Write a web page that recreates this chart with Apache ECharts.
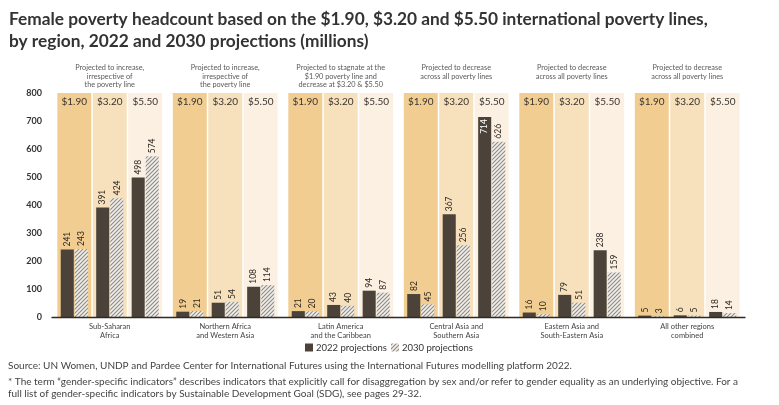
<!DOCTYPE html>
<html>
<head>
    <meta charset="utf-8">
    <title>Female poverty headcount</title>
    <script src="https://cdn.jsdelivr.net/npm/echarts@6/dist/echarts.min.js"></script>
    <style>
        html, body { margin: 0; padding: 0; background: #fff; }
        #main { width: 779px; height: 405px; }
    </style>
</head>
<body>
    <div id="main"></div>
    <script>
        var regions = ['Sub-Saharan\nAfrica', 'Northern Africa\nand Western Asia', 'Latin America\nand the Caribbean',
            'Central Asia and\nSouthern Asia', 'Eastern Asia and\nSouth-Eastern Asia', 'All other regions\ncombined'];
        var povertyLines = ['$1.90', '$3.20', '$5.50'];
        var notes = [
            'Projected to increase,\nirrespective of\nthe poverty line',
            'Projected to increase,\nirrespective of\nthe poverty line',
            'Projected to stagnate at the\n$1.90 poverty line and\ndecrease at $3.20 & $5.50',
            'Projected to decrease\nacross all poverty lines',
            'Projected to decrease\nacross all poverty lines',
            'Projected to decrease\nacross all poverty lines'
        ];
        // 2022 / 2030 values per poverty line, one entry per region
        var p2022_190 = [241, 19, 21, 82, 16, 5];
        var p2030_190 = [243, 21, 20, 45, 10, 3];
        var p2022_320 = [391, 51, 43, 367, 79, 6];
        var p2030_320 = [424, 54, 40, 256, 51, 5];
        var p2022_550 = [498, 108, 94, 714, 238, 18];
        var p2030_550 = [574, 114, 87, 626, 159, 14];
        var yTicks = [0, 100, 200, 300, 400, 500, 600, 700, 800];

        var colColors = ['#f2cd92', '#f7e0bc', '#fbf0e2'];
        var darkColor = '#4b433a';

        // hatch pattern for 2030 bars
        var hatch = document.createElement('canvas');
        hatch.width = 4; hatch.height = 4;
        var hc = hatch.getContext('2d');
        hc.fillStyle = '#f1efec';
        hc.fillRect(0, 0, 4, 4);
        hc.strokeStyle = '#8f8a84';
        hc.lineWidth = 1.1;
        hc.beginPath();
        hc.moveTo(0, 4); hc.lineTo(4, 0);
        hc.moveTo(-1, 1); hc.lineTo(1, -1);
        hc.moveTo(3, 5); hc.lineTo(5, 3);
        hc.stroke();

        var v2022 = [p2022_190, p2022_320, p2022_550];
        var v2030 = [p2030_190, p2030_320, p2030_550];

        var bgData = [];
        var barData = [];
        for (var r = 0; r < regions.length; r++) {
            for (var k = 0; k < 3; k++) {
                bgData.push([r, k, yTicks[yTicks.length - 1]]);
                barData.push([r, k, v2022[k][r], v2030[k][r]]);
            }
        }

        function colCenter(api, r, k) {
            var band = api.size([1, 0])[0];
            return api.coord([r, 0])[0] + (k - 1) * 0.307 * band;
        }

        var chart = echarts.init(document.getElementById('main'));
        chart.setOption({
            animation: false,
            textStyle: { fontFamily: 'Lato' },
            title: {
                text: 'Female poverty headcount based on the $1.90, $3.20 and $5.50 international poverty lines,\nby region, 2022 and 2030 projections (millions)',
                left: 4,
                top: 3,
                textStyle: { fontSize: 17.3, fontWeight: 'bold', color: '#333', lineHeight: 22, fontFamily: 'Lato' }
            },
            grid: { left: 52, right: 34, top: 93, bottom: 88 },
            xAxis: {
                type: 'category',
                data: regions,
                axisTick: { show: false },
                axisLine: { lineStyle: { color: '#2f2a25', width: 1.3 } },
                axisLabel: { fontSize: 7.5, color: '#444', lineHeight: 9, margin: 5, interval: 0 },
                z: 10
            },
            yAxis: {
                type: 'value',
                min: 0,
                max: 800,
                interval: 100,
                splitLine: { show: false },
                axisLine: { show: false },
                axisTick: { show: false },
                axisLabel: { fontSize: 9, color: '#333', margin: 10, fontWeight: 'bold' }
            },
            series: [{
                type: 'custom',
                name: 'background',
                data: bgData,
                encode: { x: 0, y: 2 },
                silent: true,
                z: 1,
                renderItem: function (params, api) {
                    var r = api.value(0), k = api.value(1);
                    var band = api.size([1, 0])[0];
                    var w = 0.294 * band;
                    var cx = colCenter(api, r, k);
                    var top = api.coord([r, api.value(2)])[1];
                    var bottom = api.coord([r, 0])[1];
                    var children = [{
                        type: 'rect',
                        shape: { x: cx - w / 2, y: top, width: w, height: bottom - top },
                        style: { fill: colColors[k] }
                    }, {
                        type: 'text',
                        x: cx, y: top + 9,
                        style: {
                            text: povertyLines[k], fill: '#3a3530', fontSize: 10,
                            fontFamily: 'Lato', align: 'center', verticalAlign: 'middle'
                        }
                    }];
                    if (k === 1) {
                        children.push({
                            type: 'text',
                            x: cx, y: top - 30,
                            style: {
                                text: notes[r], fill: '#5a5a5a', fontSize: 7.3, lineHeight: 8.8,
                                fontFamily: 'Lato', align: 'center', verticalAlign: 'top'
                            }
                        });
                    }
                    return { type: 'group', children: children };
                }
            }, {
                type: 'custom',
                name: 'bars',
                data: barData,
                encode: { x: 0, y: [2, 3] },
                z: 2,
                renderItem: function (params, api) {
                    var r = api.value(0), k = api.value(1);
                    var band = api.size([1, 0])[0];
                    var bw = 0.113 * band;
                    var cx = colCenter(api, r, k);
                    var base = api.coord([r, 0])[1];
                    var ceiling = api.coord([r, 800])[1];
                    var y1 = api.coord([r, api.value(2)])[1];
                    var y2 = api.coord([r, api.value(3)])[1];
                    var x1 = cx - 0.5 - bw;
                    var x2 = cx + 0.5;
                    function label(x, y, v, solid) {
                        // labels that would hit the column heading go inside the bar
                        var inside = y - ceiling < 34;
                        return {
                            type: 'text',
                            x: x, y: inside ? y + 2 : y - 3,
                            rotation: Math.PI / 2,
                            style: {
                                text: String(v), fill: inside && solid ? '#fff' : '#2f2a25', fontSize: 8.5,
                                fontFamily: 'Lato', align: inside ? 'right' : 'left', verticalAlign: 'middle'
                            }
                        };
                    }
                    return {
                        type: 'group',
                        children: [{
                            type: 'rect',
                            shape: { x: x1, y: y1, width: bw, height: base - y1 },
                            style: { fill: darkColor }
                        }, {
                            type: 'rect',
                            shape: { x: x2, y: y2, width: bw, height: base - y2 },
                            style: { fill: { image: hatch, repeat: 'repeat' } }
                        },
                        label(x1 + bw / 2, y1, api.value(2), true),
                        label(x2 + bw / 2, y2, api.value(3), false)]
                    };
                }
            }],
            graphic: [{
                type: 'rect',
                shape: { x: 305, y: 343.5, width: 8, height: 8 },
                style: { fill: darkColor }
            }, {
                type: 'text',
                x: 316, y: 348,
                style: { text: '2022 projections', fill: '#333', fontSize: 9.5, fontFamily: 'Lato', verticalAlign: 'middle' }
            }, {
                type: 'rect',
                shape: { x: 391, y: 343.5, width: 8, height: 8 },
                style: { fill: { image: hatch, repeat: 'repeat' } }
            }, {
                type: 'text',
                x: 402, y: 348,
                style: { text: '2030 projections', fill: '#333', fontSize: 9.5, fontFamily: 'Lato', verticalAlign: 'middle' }
            }, {
                type: 'text',
                x: 8, y: 366,
                style: {
                    text: 'Source: UN Women, UNDP and Pardee Center for International Futures using the International Futures modelling platform 2022.',
                    fill: '#444', fontSize: 10, fontFamily: 'Lato', verticalAlign: 'middle'
                }
            }, {
                type: 'text',
                x: 8, y: 376,
                style: {
                    text: '* The term \u201cgender-specific indicators\u201d describes indicators that explicitly call for disaggregation by sex and/or refer to gender equality as an underlying objective. For a\nfull list of gender-specific indicators by Sustainable Development Goal (SDG), see pages 29-32.',
                    fill: '#444', fontSize: 10, lineHeight: 12, fontFamily: 'Lato', verticalAlign: 'top'
                }
            }]
        });
    </script>
</body>
</html>
